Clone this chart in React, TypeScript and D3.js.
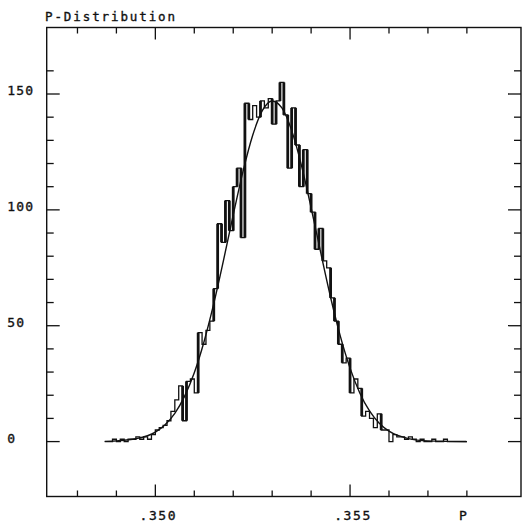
import React from "react";
import * as d3 from "d3";

// ---- data ----
const BIN_START = 0.3487;
const BIN_WIDTH = 0.0001;
const COUNTS = [
  0, 0, 1, 0, 1, 0, 1, 1, 2, 1,
  2, 1, 3, 5, 6, 7, 9, 13, 18, 24,
  9, 26, 27, 21, 47, 42, 48, 52, 66, 94,
  86, 104, 91, 110, 118, 88, 146, 139, 145, 140,
  147, 144, 148, 137, 147, 155, 141, 118, 144, 128,
  110, 126, 107, 99, 83, 92, 78, 75, 62, 52,
  42, 34, 36, 21, 27, 23, 11, 13, 10, 6,
  12, 5, 5, 0, 3, 2, 2, 1, 2, 1,
  0, 1, 0, 0, 1, 0, 0, 1, 0, 0,
  0, 0, 0,
];
const FIT_P = [
  0.3487, 0.349, 0.3495, 0.35, 0.35025, 0.3505, 0.35075, 0.351, 0.35125, 0.3515,
  0.35175, 0.352, 0.35225, 0.3525, 0.35275, 0.353, 0.35325, 0.3535, 0.35375, 0.354,
  0.35425, 0.3545, 0.35475, 0.355, 0.35525, 0.3555, 0.35575, 0.356, 0.3565, 0.357,
  0.3575, 0.358,
];
const FIT_N = [
  0.1, 0.3, 1.2, 4.1, 7.3, 12.2, 19.5, 29.7, 43.1, 59.5,
  78.2, 97.8, 116.5, 132.2, 142.9, 147.0, 144.0, 134.3, 119.3, 100.9,
  81.3, 62.3, 45.5, 31.7, 21.0, 13.2, 7.9, 4.5, 1.3, 0.3,
  0.1, 0.0,
];
const X_TICKS = [0.348, 0.349, 0.35, 0.351, 0.352, 0.353, 0.354, 0.355, 0.356, 0.357, 0.358];
const X_MAJOR = [0.35, 0.355];
const X_LABELS = [".350", ".355"];
const Y_TICKS = [0, 10, 20, 30, 40, 50, 60, 70, 80, 90, 100, 110, 120, 130, 140, 150, 160];
const Y_MAJOR = [0, 50, 100, 150];
const Y_LABELS = ["0", "50", "100", "150"];
const TITLE = "P-Distribution";
const X_NAME = "P";

const W = 523;
const H = 524;
const L = 46.7, R = 521, T = 27.5, B = 496.5;
const FONT = "'DejaVu Sans Mono', monospace";
const INK = "#111";

export default function App() {
  const x = d3.scaleLinear().domain([0.34721, 0.35939]).range([L, R]);
  const y = d3.scaleLinear().domain([-23.7, 178.7]).range([B, T]);

  const pts: [number, number][] = COUNTS.map((c, i) => [BIN_START + i * BIN_WIDTH, c]);
  pts.push([BIN_START + COUNTS.length * BIN_WIDTH, COUNTS[COUNTS.length - 1]]);
  const stepLine = d3
    .line<[number, number]>()
    .x((d) => x(d[0]))
    .y((d) => y(d[1]))
    .curve(d3.curveStepAfter);

  const verticals = COUNTS.slice(1).map((c, k) => {
    const xe = x(BIN_START + (k + 1) * BIN_WIDTH);
    return { xe, y1: y(COUNTS[k]), y2: y(c), big: Math.abs(c - COUNTS[k]) > 6 };
  });

  const fit = d3
    .line<number>()
    .x((_, i) => x(FIT_P[i]))
    .y((d) => y(d))
    .curve(d3.curveMonotoneX);

  const isXMajor = (t: number) => X_MAJOR.some((m) => Math.abs(m - t) < 1e-9);
  const textStyle = { stroke: INK, strokeWidth: 0.35 };

  return (
    <svg
      width={W}
      height={H}
      style={{ position: "absolute", left: 0, top: 0, background: "#fff" }}
      fontFamily={FONT}
    >
      <rect x={0} y={0} width={W} height={H} fill="#fff" />
      {/* frame */}
      <rect x={L} y={T} width={R - L} height={B - T} fill="none" stroke={INK} strokeWidth={1.4} />

      {/* x ticks bottom and top */}
      {X_TICKS.map((t) => {
        const len = isXMajor(t) ? 12 : 6;
        return (
          <g key={"xt" + t}>
            <line x1={x(t)} x2={x(t)} y1={B} y2={B - len} stroke={INK} strokeWidth={1.3} />
            <line x1={x(t)} x2={x(t)} y1={T} y2={T + len} stroke={INK} strokeWidth={1.3} />
          </g>
        );
      })}
      {/* y ticks left and right */}
      {Y_TICKS.map((t) => {
        const len = Y_MAJOR.includes(t) ? 13 : 7;
        return (
          <g key={"yt" + t}>
            <line x1={L} x2={L + len} y1={y(t)} y2={y(t)} stroke={INK} strokeWidth={1.3} />
            <line x1={R} x2={R - len} y1={y(t)} y2={y(t)} stroke={INK} strokeWidth={1.3} />
          </g>
        );
      })}

      {/* labels */}
      <text x={45} y={21} fontSize={12.5} letterSpacing={1.9} fill={INK} style={textStyle}>
        {TITLE}
      </text>
      {Y_MAJOR.map((t, i) => (
        <text
          key={"yl" + t}
          x={7.3}
          y={y(t) + 1}
          fontSize={13}
          letterSpacing={1.2}
          fill={INK}
          style={textStyle}
        >
          {Y_LABELS[i]}
        </text>
      ))}
      {X_MAJOR.map((t, i) => (
        <text
          key={"xl" + t}
          x={x(t) + 3}
          y={520}
          fontSize={13}
          letterSpacing={1.6}
          textAnchor="middle"
          fill={INK}
          style={textStyle}
        >
          {X_LABELS[i]}
        </text>
      ))}
      <text x={x(0.358) - 4} y={520} fontSize={13} textAnchor="middle" fill={INK} style={textStyle}>
        {X_NAME}
      </text>

      {/* histogram */}
      <path d={stepLine(pts) || ""} fill="none" stroke={INK} strokeWidth={1.3} />
      {verticals
        .filter((v) => v.big)
        .map((v, i) => (
          <line key={"v" + i} x1={v.xe} x2={v.xe} y1={v.y1} y2={v.y2} stroke={INK} strokeWidth={2.8} />
        ))}

      {/* fitted curve */}
      <path d={fit(FIT_N) || ""} fill="none" stroke={INK} strokeWidth={1.4} />
    </svg>
  );
}
